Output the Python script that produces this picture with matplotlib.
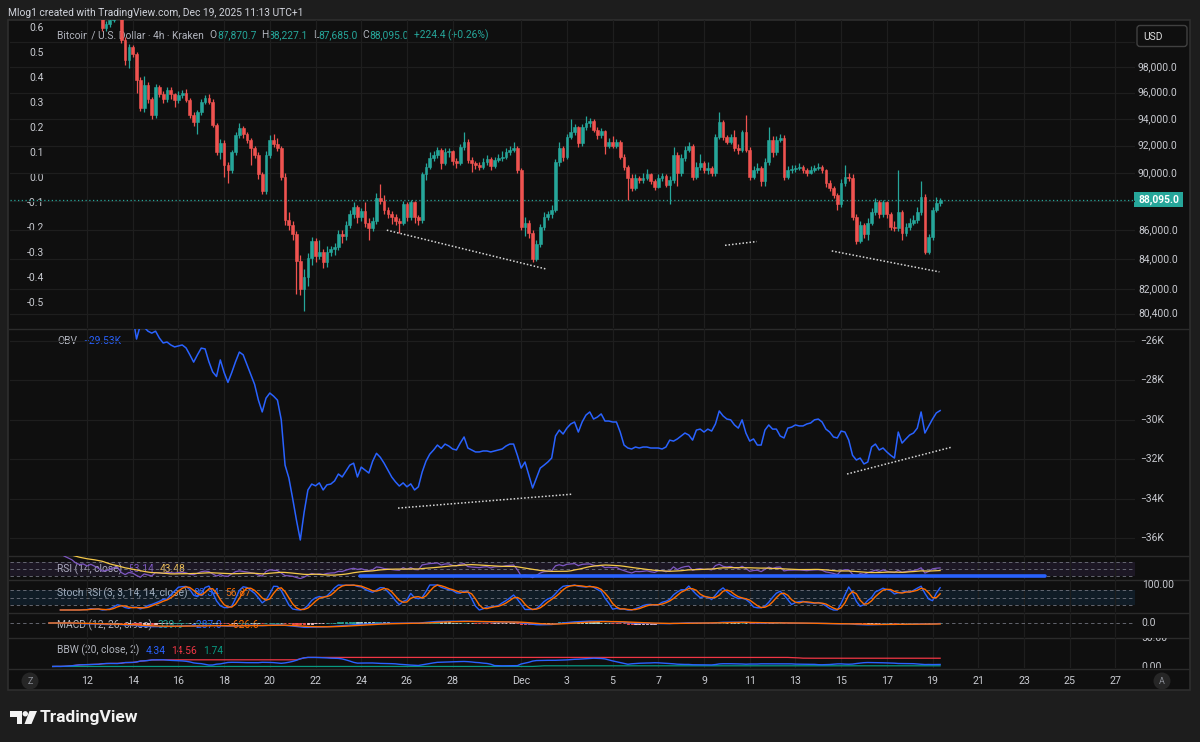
import numpy as np
import pandas as pd
import matplotlib
matplotlib.use("Agg")
import matplotlib.pyplot as plt
from matplotlib.patches import Rectangle, FancyBboxPatch, Circle, Polygon
from matplotlib.transforms import blended_transform_factory as btf
from matplotlib.ticker import NullLocator, FixedLocator

plt.rcParams['font.family'] = ['Roboto', 'DejaVu Sans']

# ---------------- data ----------------
# time axis in "day of November" (Dec d = 30 + d); 4h candles, first Nov 10 08:00
first_day = 10 + 8 / 24
bar_hours = 4
first_open_k = 105.3

closes_k = [
    105.6, 106.1, 106.3, 105.9, 105.4, 105.0, 104.6, 103.8, 103.3, 103.6,
    103.0, 103.8, 103.2, 102.4, 101.1, 101.4, 101.8, 102.6, 102.8, 100.15,
    98.55, 99.55, 99.03, 96.98, 94.8, 96.6, 95.5, 94.3, 96.45, 95.9,
    95.5, 96.2, 95.9, 95.44, 95.8, 96.0, 95.44, 94.3, 93.8, 94.5,
    95.3, 95.6, 95.3, 93.55, 91.5, 92.2, 90.6, 90.25, 91.5, 92.8,
    93.3, 92.85, 92.44, 91.85, 91.34, 89.9, 88.7, 91.34, 92.44, 92.15,
    91.85, 89.75, 86.7, 86.36, 85.68, 83.85, 82.0, 82.8, 84.1, 85.2,
    84.2, 84.5, 83.8, 84.45, 84.7, 84.8, 85.7, 85.55, 86.36, 87.06,
    87.55, 86.85, 87.27, 86.5, 86.15, 86.57, 88.25, 88.0, 87.4, 87.1,
    86.85, 86.6, 86.45, 87.76, 86.9, 87.9, 86.85, 86.7, 89.9, 90.47,
    91.1, 91.34, 91.7, 90.75, 91.55, 91.6, 90.9, 90.75, 91.93, 92.3,
    90.97, 90.75, 90.6, 90.47, 90.83, 91.0, 90.5, 90.97, 91.1, 91.15,
    91.5, 91.7, 91.85, 90.25, 86.2, 86.5, 85.8, 84.0, 85.0, 86.2,
    86.9, 87.06, 87.4, 90.8, 91.85, 91.2, 92.66, 92.98, 93.36, 92.2,
    93.4, 93.7, 93.85, 93.18, 92.8, 93.06, 92.0, 92.25, 92.0, 92.25,
    91.2, 90.47, 89.67, 88.96, 89.67, 89.53, 89.67, 89.9, 89.4, 89.03,
    89.67, 89.8, 89.17, 89.53, 91.34, 90.0, 91.1, 91.7, 92.0, 89.75,
    90.47, 90.75, 90.25, 90.4, 90.0, 92.66, 93.78, 92.66, 92.3, 92.66,
    91.85, 91.7, 92.98, 91.7, 89.75, 90.25, 90.4, 89.4, 90.8, 92.44,
    91.5, 92.44, 92.6, 89.75, 90.25, 90.3, 90.4, 90.45, 90.25, 90.0,
    90.25, 90.35, 90.45, 90.2, 89.3, 88.96, 88.46, 87.76, 89.3, 89.75,
    89.67, 86.9, 85.2, 86.36, 85.68, 86.5, 87.2, 87.97, 87.06, 87.9,
    87.06, 86.2, 86.1, 87.2, 85.8, 86.2, 86.5, 86.7, 87.2, 88.3,
    84.45, 85.5, 87.4, 87.8707, 88.095,
]

highs_k = [
    106.0, 106.5, 106.7, 106.4, 106.0, 105.6, 105.1, 104.7, 104.0, 103.9,
    104.2, 104.3, 104.0, 103.5, 102.6, 101.7, 102.0, 102.9, 103.2, 103.0,
    100.4, 99.8, 99.7, 99.2, 97.2, 97.3, 96.8, 95.7, 96.7, 96.6,
    96.1, 96.4, 96.4, 96.0, 96.1, 96.2, 96.3, 95.6, 94.5, 94.7,
    95.5, 95.8, 95.9, 95.5, 93.7, 92.5, 92.4, 90.8, 91.7, 93.0,
    93.7, 93.5, 93.0, 92.6, 92.0, 91.5, 90.1, 91.6, 92.8, 92.9,
    92.6, 92.0, 90.0, 87.2, 86.6, 85.9, 84.3, 83.3, 84.4, 85.5,
    85.4, 85.3, 84.7, 84.9, 84.9, 85.1, 86.0, 86.0, 86.6, 87.4,
    87.9, 87.7, 87.5, 87.9, 86.8, 86.9, 88.6, 89.2, 88.4, 87.6,
    87.3, 87.1, 86.8, 88.0, 87.9, 88.1, 88.0, 87.0, 90.1, 90.7,
    91.5, 91.6, 91.9, 91.8, 91.8, 91.8, 91.7, 91.1, 92.1, 93.0,
    92.5, 91.2, 90.9, 90.8, 91.1, 91.3, 91.2, 91.2, 91.4, 91.6,
    91.8, 92.0, 92.3, 92.0, 90.4, 86.9, 86.7, 86.0, 85.3, 86.4,
    87.2, 87.3, 87.7, 91.0, 92.3, 92.0, 92.9, 94.0, 93.6, 93.5,
    93.6, 94.2, 94.1, 94.0, 93.4, 93.3, 93.2, 92.6, 92.7, 92.5,
    92.4, 91.4, 90.6, 89.9, 89.9, 89.8, 90.0, 90.3, 90.0, 89.6,
    89.9, 90.0, 89.9, 89.8, 91.9, 91.5, 91.4, 92.0, 92.3, 92.1,
    90.8, 91.4, 90.9, 90.8, 90.5, 92.9, 94.5, 93.9, 92.8, 92.9,
    93.2, 92.1, 93.2, 94.3, 91.9, 90.5, 90.7, 90.5, 91.1, 93.4,
    92.7, 92.7, 92.9, 92.8, 90.5, 90.6, 90.6, 90.7, 90.6, 90.4,
    90.5, 90.6, 90.7, 90.6, 90.3, 89.5, 89.1, 88.6, 89.6, 90.6,
    90.0, 89.9, 87.1, 86.6, 86.5, 86.8, 87.5, 88.2, 88.1, 88.1,
    88.0, 87.2, 86.6, 90.25, 87.4, 86.5, 86.8, 87.0, 87.6, 89.4,
    88.5, 85.7, 87.6, 88.3, 88.2271,
]

lows_k = [
    105.0, 105.4, 105.8, 105.6, 105.1, 104.7, 104.2, 103.5, 102.9, 103.0,
    102.6, 102.8, 102.9, 102.2, 100.9, 100.9, 101.2, 101.6, 102.3, 99.9,
    98.16, 97.9, 98.8, 96.0, 94.6, 94.5, 95.2, 94.0, 94.1, 95.7,
    95.2, 95.3, 95.5, 94.9, 95.2, 95.6, 95.3, 94.1, 93.5, 92.9,
    94.3, 95.1, 95.1, 93.4, 91.3, 91.0, 89.7, 89.3, 90.0, 91.3,
    92.6, 92.6, 92.2, 90.6, 91.1, 89.6, 88.5, 88.5, 91.1, 91.9,
    91.6, 89.5, 86.3, 86.0, 85.3, 81.7, 81.6, 80.55, 82.2, 83.6,
    83.8, 84.0, 83.4, 83.5, 84.2, 84.3, 84.6, 85.1, 85.3, 86.1,
    86.8, 86.5, 86.6, 86.2, 85.3, 85.9, 86.4, 87.8, 87.1, 86.8,
    86.4, 86.3, 85.8, 86.3, 86.6, 86.7, 86.5, 86.3, 86.5, 89.5,
    90.3, 90.9, 91.1, 90.3, 90.6, 91.2, 90.6, 90.4, 90.6, 91.7,
    90.7, 90.1, 90.3, 90.2, 90.3, 90.6, 90.2, 90.4, 90.8, 90.9,
    91.0, 91.3, 91.5, 90.0, 86.0, 85.6, 85.4, 83.8, 83.9, 84.8,
    86.0, 86.7, 86.8, 87.2, 90.5, 90.9, 91.0, 92.5, 92.8, 91.9,
    92.0, 93.2, 93.4, 93.0, 92.5, 92.6, 91.4, 91.8, 91.8, 91.8,
    91.0, 90.2, 88.1, 88.7, 88.8, 89.3, 89.3, 89.5, 89.2, 88.8,
    88.9, 89.4, 89.0, 87.76, 89.3, 89.1, 89.8, 90.9, 91.5, 89.5,
    89.6, 90.2, 90.0, 89.9, 89.8, 89.8, 92.5, 92.4, 92.1, 92.1,
    91.6, 91.4, 91.5, 91.5, 89.5, 89.6, 90.0, 89.1, 89.1, 90.6,
    91.2, 91.3, 92.3, 89.5, 89.6, 90.0, 90.1, 90.2, 90.0, 89.8,
    89.9, 90.1, 90.2, 90.0, 89.0, 88.7, 88.2, 87.4, 87.6, 89.1,
    89.4, 86.7, 85.0, 85.1, 85.4, 85.3, 86.3, 87.0, 86.8, 86.9,
    86.8, 86.0, 85.9, 85.9, 85.3, 85.6, 86.0, 86.3, 86.5, 87.0,
    84.35, 84.35, 85.3, 87.2, 87.685,
]

obv_k = [
    -21.5, -21.2, -21.0, -21.4, -21.9, -22.3, -22.6, -23.1, -23.5, -23.3,
    -23.2, -23.0, -23.4, -23.8, -24.3, -24.1, -23.9, -23.6, -23.5, -24.2,
    -24.8, -24.5, -24.7, -25.9, -25.2, -25.3, -25.5, -25.6, -25.5, -25.85,
    -26.1, -26.05, -26.2, -26.3, -26.25, -26.2, -26.35, -26.7, -27.07, -26.7,
    -26.36, -26.4, -27.05, -27.57, -27.8, -26.96, -27.6, -28.1, -27.6, -27.05,
    -26.56, -26.7, -27.2, -27.7, -28.2, -29.0, -29.6, -28.9, -28.64, -28.8,
    -29.0, -30.0, -32.3, -32.95, -34.0, -35.1, -36.1, -34.7, -33.56, -33.26,
    -33.35, -33.2, -33.56, -33.3, -33.26, -33.1, -32.75, -32.9, -32.6, -32.3,
    -32.2, -32.9, -32.4, -32.55, -32.7, -32.1, -31.7, -31.9, -32.2, -32.55,
    -32.9, -33.15, -33.36, -33.2, -33.4, -33.25, -33.56, -33.4, -32.65, -32.1,
    -31.74, -31.53, -31.28, -31.45, -31.23, -31.33, -31.48, -31.53, -31.18, -30.87,
    -31.43, -31.53, -31.63, -31.63, -31.58, -31.58, -31.63, -31.58, -31.53, -31.48,
    -31.33, -31.23, -31.23, -31.8, -32.45, -32.14, -32.8, -33.46, -32.95, -32.45,
    -32.3, -32.14, -31.94, -30.82, -30.52, -30.72, -30.42, -30.21, -30.11, -30.62,
    -30.11, -29.76, -29.6, -29.96, -29.86, -29.7, -30.06, -30.06, -30.11, -30.11,
    -30.62, -31.28, -31.43, -31.48, -31.38, -31.43, -31.38, -31.38, -31.43, -31.43,
    -31.43, -31.48, -31.38, -31.03, -31.08, -30.97, -30.82, -30.67, -30.77, -31.03,
    -30.52, -30.47, -30.62, -30.47, -30.57, -30.21, -29.55, -29.8, -29.96, -30.0,
    -30.26, -30.42, -30.0, -30.67, -31.08, -30.97, -31.28, -31.28, -30.52, -30.26,
    -30.47, -30.47, -30.82, -30.92, -30.42, -30.37, -30.26, -30.31, -30.31, -30.21,
    -30.16, -30.0, -29.96, -30.11, -30.47, -30.62, -30.87, -30.92, -30.57, -30.62,
    -31.03, -31.8, -32.04, -31.94, -32.24, -32.14, -31.38, -31.23, -31.53, -31.43,
    -31.63, -31.8, -31.94, -30.62, -31.18, -30.97, -30.77, -30.67, -30.42, -29.6,
    -30.67, -30.31, -29.96, -29.65, -29.53,
]

# drawings (day, value)
price_trend_days = [(25.12, 32.12), (39.92, 41.31), (44.59, 49.30)]
price_trend_vals = [(85970, 83320), (84930, 85190), (84550, 83140)]
obv_trend_days = [(25.61, 33.27), (45.26, 49.86)]
obv_trend_vals = [(-34.48, -33.77), (-32.75, -31.38)]
rsi_ray_days = (23.95, 53.93)
rsi_ray_val = 29.5

# axis ticks / labels
x_ticks = [12, 14, 16, 18, 20, 22, 24, 26, 28, 31, 33, 35, 37, 39, 41, 43, 45, 47, 49, 51, 53, 55, 57]
x_labels = ['12', '14', '16', '18', '20', '22', '24', '26', '28', 'Dec', '3', '5', '7', '9',
            '11', '13', '15', '17', '19', '21', '23', '25', '27']
price_grid = [100000, 98000, 96000, 94000, 92000, 90000, 88000, 86000, 84000, 82000, 80400]
price_labels = {98000: '98,000.0', 96000: '96,000.0', 94000: '94,000.0', 92000: '92,000.0',
                90000: '90,000.0', 86000: '86,000.0', 84000: '84,000.0', 82000: '82,000.0',
                80400: '80,400.0'}
left_vals = [0.6, 0.5, 0.4, 0.3, 0.2, 0.1, 0.0, -0.1, -0.2, -0.3, -0.4, -0.5]
obv_ticks = [-26, -28, -30, -32, -34, -36]

header = "Mlog1 created with TradingView.com, Dec 19, 2025 11:13 UTC+1"
title = "Bitcoin / U.S. Dollar · 4h · Kraken"
ohlc_parts = [("O", "87,870.7"), ("H", "88,227.1"), ("L", "87,685.0"), ("C", "88,095.0")]
change_txt = "+224.4 (+0.26%)"

# ---------------- styling ----------------
W, H = 1200, 742
OUTER = '#1d1d1d'
INNER = '#0f0f0f'
BORDER = '#2e2e2e'
GRID = '#1e1e1e'
SEP = '#2b2b2b'
TXT = '#c9cbd1'
TXT2 = '#b2b5be'
UP = '#26a69a'
DN = '#ef5350'
BLUE = '#2962ff'
ORANGE = '#ff6d00'
PURPLE = '#7e57c2'
YELLOW = '#f5c94a'
FS = 7.4

close = np.array(closes_k) * 1000
high = np.array(highs_k) * 1000
low = np.array(lows_k) * 1000
opn = np.r_[first_open_k * 1000, close[:-1]]
obv = np.array(obv_k)
n = len(close)
t = first_day + np.arange(n) * bar_hours / 24
XL = (8.63, 57.86)

# indicators derived from closes
cs = pd.Series(close)
dlt = cs.diff()
gain = dlt.clip(lower=0).ewm(alpha=1 / 14, adjust=False).mean()
loss = (-dlt.clip(upper=0)).ewm(alpha=1 / 14, adjust=False).mean()
rsi = 100 - 100 / (1 + gain / loss)
rsi_ma = rsi.rolling(14, min_periods=1).mean()
rlo = rsi.rolling(14, min_periods=1).min()
rhi = rsi.rolling(14, min_periods=1).max()
stoch = (rsi - rlo) / (rhi - rlo) * 100
k_line = stoch.rolling(3, min_periods=1).mean()
d_line = k_line.rolling(3, min_periods=1).mean()
macd = cs.ewm(span=12, adjust=False).mean() - cs.ewm(span=26, adjust=False).mean()
sig = macd.ewm(span=9, adjust=False).mean()
hist = macd - sig
basis = cs.rolling(20, min_periods=2).mean()
sd = cs.rolling(20, min_periods=2).std(ddof=0)
bbw = 4 * sd / basis * 100
bb_hi = bbw.rolling(125, min_periods=1).max()
bb_lo = bbw.rolling(125, min_periods=1).min()

# ---------------- figure ----------------
fig = plt.figure(figsize=(12, 7.42), dpi=100)
fig.patch.set_facecolor(OUTER)
renderer = fig.canvas.get_renderer()

bg = fig.add_axes([0, 0, 1, 1])
bg.set_xlim(0, W)
bg.set_ylim(H, 0)
bg.axis('off')
bg.add_patch(Rectangle((8, 20), 1182, 670, fc=INNER, ec=BORDER, lw=1.2))
for yy in [328.5, 555.5, 579.5, 612.5, 637.5, 668.5]:
    bg.plot([9, 1189], [yy, yy], color=SEP, lw=1)


def chain(x, y, parts):
    """place text parts one after another: (string, color, gap_before_px)"""
    for s, c, gap in parts:
        x += gap
        tx = bg.text(x, y, s, ha='left', va='center', color=c, fontsize=FS)
        x += tx.get_window_extent(renderer).width


def pane(top, bot):
    a = fig.add_axes([10 / W, 1 - bot / H, 1125 / W, (bot - top) / H])
    a.set_facecolor('none')
    for s in a.spines.values():
        s.set_visible(False)
    a.set_xlim(XL)
    a.xaxis.set_major_locator(FixedLocator(x_ticks))
    a.tick_params(length=0, labelbottom=False, labelleft=False)
    a.grid(True, axis='x', color=GRID, lw=0.9)
    return a


# ---- price pane ----
ax = pane(20, 328)
ax.set_yscale('log')
ax.set_ylim(79480, 101760)
ax.yaxis.set_major_locator(FixedLocator(price_grid))
ax.yaxis.set_minor_locator(NullLocator())
ax.grid(True, axis='y', color=GRID, lw=0.9)
up = close >= opn
col = np.where(up, UP, DN)
ax.vlines(t, low, high, colors=col, lw=0.9, zorder=3)
ax.bar(t, np.abs(close - opn), bottom=np.minimum(opn, close), width=0.12,
       color=col, edgecolor=col, lw=0.4, zorder=4)
ax.axhline(close[-1], color=UP, ls=(0, (1, 2)), lw=0.9, zorder=2)
for (d0, d1), (v0, v1) in zip(price_trend_days, price_trend_vals):
    ax.plot([d0, d1], [v0, v1], color='#d8d8d8', lw=1.1, ls=(0, (1, 1.3)), zorder=5)

axl = fig.add_axes([10 / W, 1 - 328 / H, 1125 / W, 308 / H])
axl.set_ylim(-0.6, 0.632)
axl.axis('off')
for v in left_vals:
    bg.text(44, v, f"{v:.1f}", transform=btf(bg.transData, axl.transData),
            ha='right', va='center', color=TXT, fontsize=FS)

tr_p = btf(bg.transData, ax.transData)
for v, s in price_labels.items():
    bg.text(1138, v, s, transform=tr_p, ha='left', va='center', color=TXT, fontsize=FS)

# price marker
ypx = H - ax.transData.transform((t[-1], close[-1]))[1]
bg.add_patch(Rectangle((1134, ypx - 7.5), 49, 15, fc=UP, ec='none', zorder=6))
bg.text(1158.5, ypx, f"{close[-1]:,.1f}", ha='center', va='center', color='white',
        fontsize=FS, fontweight='bold', zorder=7)

# USD box
bg.add_patch(FancyBboxPatch((1137, 25.5), 50, 21, boxstyle="round,pad=0,rounding_size=3",
                            fc=INNER, ec='#404040', lw=1, zorder=6))
bg.text(1143, 36.5, "USD", ha='left', va='center', color='#e0e0e0', fontsize=FS, zorder=7)

# header / legend
bg.text(8, 12.5, header, ha='left', va='center', color='#d1d4dc', fontsize=FS)
legend_parts = [(title, TXT2, 0)]
for i, (lt, val) in enumerate(ohlc_parts):
    legend_parts += [(lt, TXT2, 6 if i == 0 else 5), (val, UP, 0)]
legend_parts.append((change_txt, UP, 5))
chain(57, 35.5, legend_parts)

# ---- OBV pane ----
ao = pane(329, 555)
ao.set_ylim(-36.86, -25.39)
ao.yaxis.set_major_locator(FixedLocator(obv_ticks))
ao.grid(True, axis='y', color=GRID, lw=0.9)
ao.plot(t, obv, color=BLUE, lw=1.1, zorder=3)
for (d0, d1), (v0, v1) in zip(obv_trend_days, obv_trend_vals):
    ao.plot([d0, d1], [v0, v1], color='#d8d8d8', lw=1.1, ls=(0, (1, 1.3)), zorder=5)
tr_o = btf(bg.transData, ao.transData)
for v in obv_ticks:
    bg.text(1140, v, f"\u2212{abs(v)}K", transform=tr_o, ha='left', va='center',
            color=TXT, fontsize=FS)
chain(57, 341, [("OBV", TXT2, 0), ("\u221229.53K", BLUE, 6)])

dash = (0, (3.5, 3))
# ---- RSI pane ----
ar = pane(556, 579)
ar.set_ylim(21.4, 87.1)
ar.set_yticks([])
ar.axhspan(30, 70, color=PURPLE, alpha=0.12, lw=0)
for lv in (70, 50, 30):
    ar.axhline(lv, color='#787b86', lw=0.7, ls=dash, alpha=0.8)
ar.plot(t, rsi, color=PURPLE, lw=0.9, zorder=3)
ar.plot(t, rsi_ma, color=YELLOW, lw=0.9, zorder=3)
ar.plot(list(rsi_ray_days), [rsi_ray_val, rsi_ray_val], color=BLUE, lw=2.6,
        solid_capstyle='round', zorder=4)
chain(57, 569, [("RSI (14, close)", TXT2, 0), ("53.14", PURPLE, 6), ("43.48", YELLOW, 6)])

# ---- Stoch RSI pane ----
ast = pane(580, 612)
ast.set_ylim(-8, 120)
ast.set_yticks([])
ast.axhspan(20, 80, color='#2196f3', alpha=0.10, lw=0)
for lv in (80, 50, 20):
    ast.axhline(lv, color='#787b86', lw=0.7, ls=dash, alpha=0.8)
ast.plot(t, k_line, color=BLUE, lw=1.0, zorder=3)
ast.plot(t, d_line, color=ORANGE, lw=1.0, zorder=3)
chain(57, 593.5, [("Stoch RSI (3, 3, 14, 14, close)", TXT2, 0), ("80.34", BLUE, 6),
                  ("56.87", ORANGE, 6)])
bg.text(1142, 100, "100.00", transform=btf(bg.transData, ast.transData), ha='left',
        va='center', color=TXT, fontsize=FS)

# ---- MACD pane ----
am = pane(613, 637)
am.set_ylim(-9100, 6500)
am.set_yticks([])
am.axhline(0, color='#787b86', lw=0.7, ls=dash, alpha=0.8)
hv = hist.values
hcol = []
for i in range(n):
    prev = hv[i - 1] if i > 0 else 0
    if hv[i] >= 0:
        hcol.append('#26a69a' if hv[i] >= prev else '#b2dfdb')
    else:
        hcol.append('#ff5252' if hv[i] < prev else '#ffcdd2')
am.bar(t, hv, width=0.1, color=hcol, edgecolor=hcol, lw=0.6, zorder=3)
am.plot(t, macd, color=BLUE, lw=1.0, zorder=4)
am.plot(t, sig, color=ORANGE, lw=1.0, zorder=4)
chain(57, 625, [("MACD (12, 26, close)", TXT2, 0), ("339.6", '#26a69a', 6),
                ("\u2212287.0", BLUE, 6), ("\u2212626.6", ORANGE, 6)])
bg.text(1141, 0, "0.0", transform=btf(bg.transData, am.transData), ha='left',
        va='center', color=TXT, fontsize=FS)

# ---- BBW pane ----
ab = pane(638, 668)
ab.set_ylim(-1.7, 50)
ab.set_yticks([])
ab.plot(t, bb_hi, color='#f23645', lw=0.9, zorder=3)
ab.plot(t, bb_lo, color='#089981', lw=0.9, zorder=3)
ab.plot(t, bbw, color=BLUE, lw=1.0, zorder=4)
chain(57, 650.5, [("BBW (20, close, 2)", TXT2, 0), ("4.34", BLUE, 6),
                  ("14.56", '#f23645', 6), ("1.74", '#089981', 6)])
clip_rect = Rectangle((1135, 638), 55, 30, transform=bg.transData)
for v, s in [(50, "50.00"), (0, "0.00")]:
    tx = bg.text(1141, v, s, transform=btf(bg.transData, ab.transData), ha='left',
                 va='center', color=TXT, fontsize=FS, clip_on=True)
    tx.set_clip_path(clip_rect)

# ---- time axis ----
tr_t = btf(ab.transData, bg.transData)
for xv, lb in zip(x_ticks, x_labels):
    bg.text(xv, 681, lb, transform=tr_t, ha='center', va='center', color=TXT, fontsize=FS + 0.3)
for cx, letter in [(30, 'Z'), (1162, 'A')]:
    bg.add_patch(Circle((cx, 681), 8.5, fc='#262626', ec='none'))
    bg.text(cx, 681.5, letter, ha='center', va='center', color='#8a8d95', fontsize=6.5)

# ---- TradingView logo ----
bg.add_patch(Polygon([(10, 711), (21.5, 711), (21.5, 724), (16.5, 724), (16.5, 716.5), (10, 716.5)],
                     closed=True, fc='#f2f2f2', ec='none'))
bg.add_patch(Circle((25.3, 713.8), 2.7, fc='#f2f2f2', ec='none'))
bg.add_patch(Polygon([(29.5, 711), (37, 711), (31.5, 724), (24.5, 724)], closed=True,
                     fc='#f2f2f2', ec='none'))
bg.text(40, 717.5, "TradingView", ha='left', va='center', color='#f2f2f2', fontsize=12.5,
        fontweight='bold')

fig.savefig('out.png', dpi=100, facecolor=fig.get_facecolor())
